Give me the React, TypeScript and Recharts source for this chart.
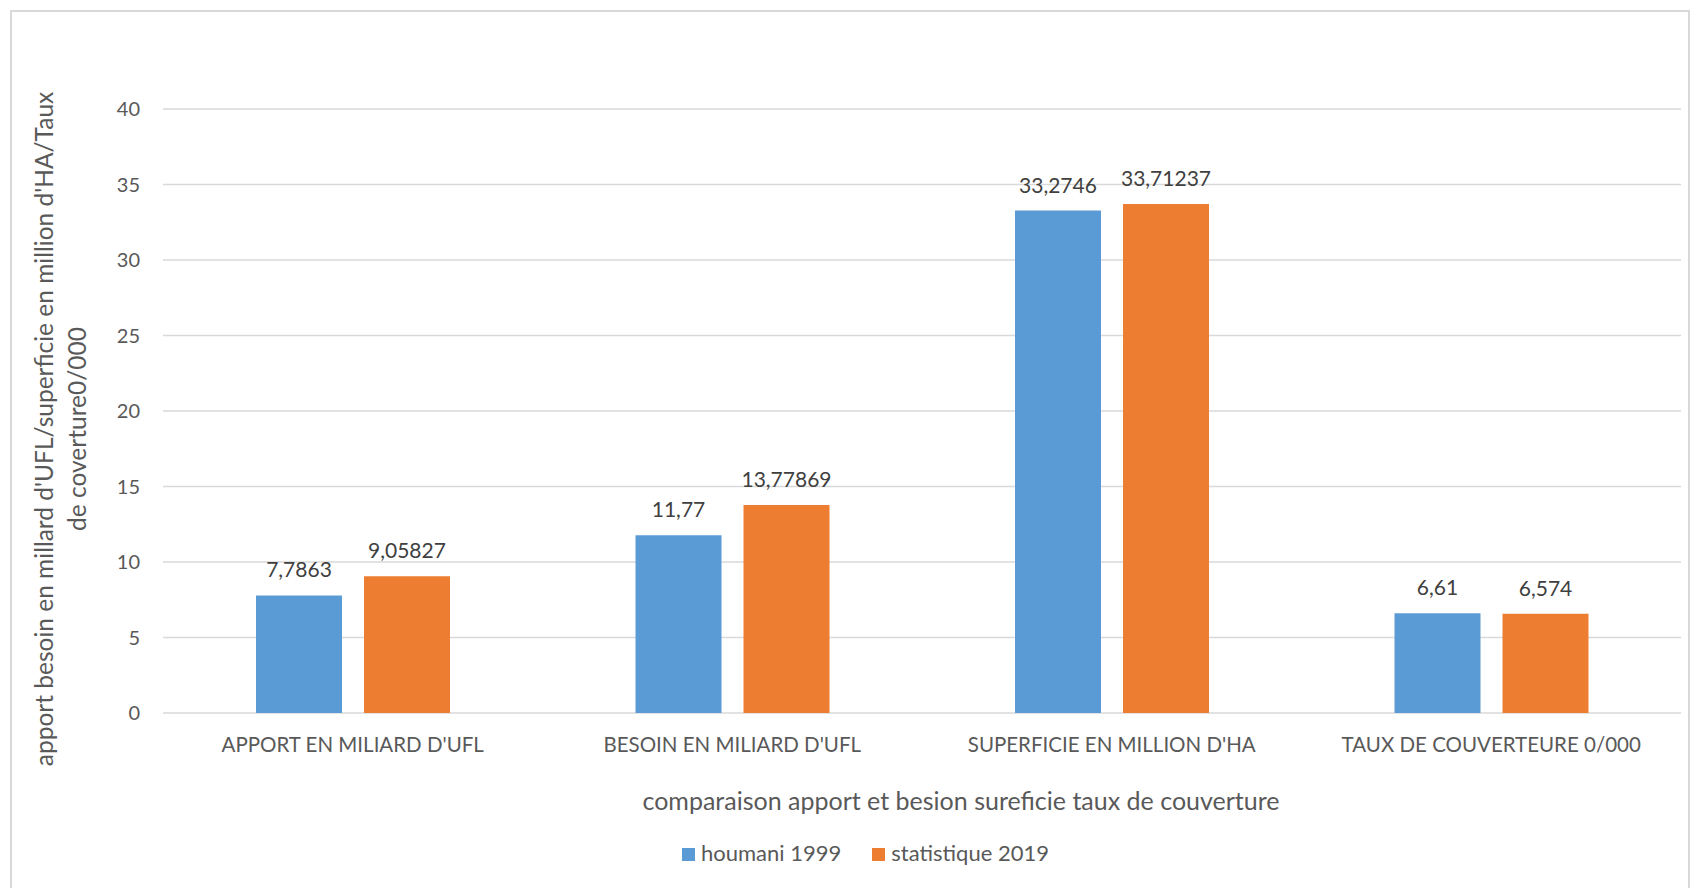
import React from "react";
import { BarChart, Bar, XAxis, YAxis, CartesianGrid, LabelList, Label } from "recharts";

const categories = [
  "APPORT EN MILIARD D'UFL",
  "BESOIN EN MILIARD D'UFL",
  "SUPERFICIE EN MILLION D'HA",
  "TAUX DE COUVERTEURE 0/000",
];
const houmani1999 = [7.7863, 11.77, 33.2746, 6.61];
const statistique2019 = [9.05827, 13.77869, 33.71237, 6.574];
const yTicks = [0, 5, 10, 15, 20, 25, 30, 35, 40];

const seriesNames = { houmani: "houmani 1999", stat: "statistique 2019" };
const xTitle = "comparaison apport et besion sureficie taux de couverture";
const yTitleLine1 = "apport besoin en millard d'UFL/superficie en million d'HA/Taux";
const yTitleLine2 = "de coverture0/000";

const BLUE = "#5B9BD5";
const ORANGE = "#ED7D31";
const FONT = "Lato, 'Open Sans', sans-serif";

const data = categories.map((name, i) => ({
  name,
  houmani: houmani1999[i],
  stat: statistique2019[i],
}));

const fmt = (v: any) => String(v).replace(".", ",");

function ChartLegend() {
  const items = [
    { label: seriesNames.houmani, color: BLUE },
    { label: seriesNames.stat, color: ORANGE },
  ];
  return (
    <div
      style={{
        position: "absolute",
        left: 682,
        top: 840,
        display: "flex",
        fontFamily: FONT,
        fontSize: 22,
        color: "#595959",
        lineHeight: "26px",
      }}
    >
      {items.map((it) => (
        <div key={it.label} style={{ display: "flex", alignItems: "center", marginRight: 31 }}>
          <span style={{ display: "inline-block", width: 13, height: 13, background: it.color, marginRight: 6, marginTop: 3 }} />
          <span>{it.label}</span>
        </div>
      ))}
    </div>
  );
}

export default function App() {
  return (
    <div style={{ position: "absolute", left: 0, top: 0, width: 1691, height: 888, background: "#fff", overflow: "hidden" }}>
      <div style={{ position: "absolute", left: 10, top: 10, width: 1680, height: 900, border: "2px solid #D9D9D9", boxSizing: "border-box" }} />
      <BarChart
        width={1691}
        height={888}
        data={data}
        margin={{ top: 109, right: 10, bottom: 135, left: 103 }}
        barSize={86}
        barGap={22}
        style={{ position: "absolute", left: 0, top: 0, fontFamily: FONT }}
      >
        <CartesianGrid vertical={false} stroke="#D9D9D9" strokeWidth={1.5} />
        <XAxis
          dataKey="name"
          height={40}
          axisLine={false}
          tickLine={false}
          tickSize={0}
          tickMargin={24}
          interval={0}
          tick={{ fill: "#595959", fontSize: 20.5, fontFamily: FONT }}
        >
          <Label
            content={() => (
              <text x={961} y={810} textAnchor="middle" fill="#595959" fontSize={25} fontFamily={FONT}>
                {xTitle}
              </text>
            )}
          />
        </XAxis>
        <YAxis
          width={60}
          domain={[0, 40]}
          ticks={yTicks}
          axisLine={false}
          tickLine={false}
          tickSize={0}
          tickMargin={23}
          tick={{ fill: "#595959", fontSize: 20, fontFamily: FONT }}
        >
          <Label
            content={() => (
              <g>
                <text x={53} y={429} transform="rotate(-90 53 429)" textAnchor="middle" fill="#595959" fontSize={24.5} fontFamily={FONT}>
                  {yTitleLine1}
                </text>
                <text x={86} y={429} transform="rotate(-90 86 429)" textAnchor="middle" fill="#595959" fontSize={24.5} fontFamily={FONT}>
                  {yTitleLine2}
                </text>
              </g>
            )}
          />
        </YAxis>
        <Bar dataKey="houmani" name={seriesNames.houmani} fill={BLUE} isAnimationActive={false}>
          <LabelList dataKey="houmani" position="top" offset={18} formatter={fmt} fill="#404040" fontSize={21} fontFamily={FONT} />
        </Bar>
        <Bar dataKey="stat" name={seriesNames.stat} fill={ORANGE} isAnimationActive={false}>
          <LabelList dataKey="stat" position="top" offset={18} formatter={fmt} fill="#404040" fontSize={21} fontFamily={FONT} />
        </Bar>
      </BarChart>
      <ChartLegend />
    </div>
  );
}
